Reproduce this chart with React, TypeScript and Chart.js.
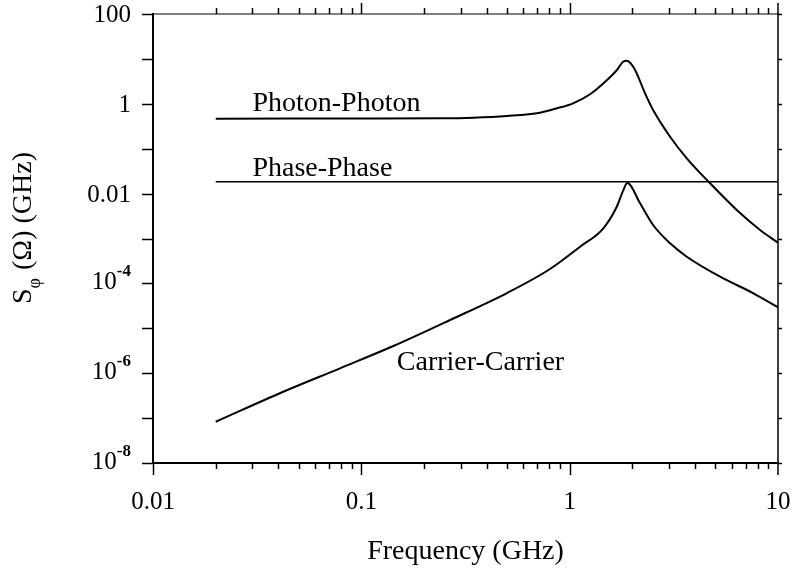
import React, { useEffect, useRef } from 'react';
import { Chart, registerables } from 'chart.js';

Chart.register(...registerables);

// ---- data ----
const photonFreq = [0.02, 0.1, 0.2386, 0.3438, 0.5006, 0.721, 0.87, 1.038, 1.253, 1.512, 1.686, 1.805, 1.88, 1.95, 2.061, 2.301, 2.515, 3.034, 3.649, 4.721, 6.34, 8.2, 10];
const photonValues = [0.466, 0.47, 0.475, 0.49, 0.535, 0.634, 0.794, 1.026, 1.63, 3.39, 5.66, 8.66, 9.12, 8.2, 5.66, 1.71, 0.728, 0.185, 0.0611, 0.01695, 0.00431, 0.001545, 0.000806];

const phaseFreq = [0.02, 10];
const phaseValues = [0.0184, 0.0184];

const carrierFreq = [0.02, 0.0422, 0.079, 0.1424, 0.2666, 0.5, 0.805, 1.122, 1.451, 1.683, 1.81, 1.89, 2.178, 2.515, 3.034, 3.649, 5.272, 7.62, 10];
const carrierValues = [8.3e-8, 3.87e-7, 1.285e-6, 4.03e-6, 1.53e-5, 6.1e-5, 2.09e-4, 6.56e-4, 1.69e-3, 5.1e-3, 0.012, 0.0172, 6.08e-3, 2.0e-3, 7.82e-4, 3.93e-4, 1.41e-4, 6.03e-5, 2.94e-5];

const xTickValues = [0.01, 0.1, 1, 10];
const xTickLabels = ['0.01', '0.1', '1', '10'];
const yTickValues = [100, 1, 0.01, 1e-4, 1e-6, 1e-8];
const yTickBases = ['100', '1', '0.01', '10', '10', '10'];
const yTickExponents = ['', '', '', '-4', '-6', '-8'];
const yDecades = [100, 10, 1, 0.1, 0.01, 1e-3, 1e-4, 1e-5, 1e-6, 1e-7, 1e-8];

const curveLabels = ['Photon-Photon', 'Phase-Phase', 'Carrier-Carrier'];
const curveLabelAnchorX = [0.03, 0.03, 0.148];
const curveLabelAnchorY = [0.69, 0.0247, 1.18e-6];

const xTitle = 'Frequency (GHz)';
const yTitleMain = 'S';
const yTitleSub = 'φ';
const yTitleRest = '(Ω) (GHz)';

const FONT = "'Liberation Serif', 'DejaVu Serif', serif";

const toPoints = (xs: number[], ys: number[]) => xs.map((v, i) => ({ x: v, y: ys[i] }));

const decorPlugin = {
  id: 'decor',
  afterDraw(chart: any) {
    const { ctx, chartArea: a, scales } = chart;
    const xs = scales.x;
    const ys = scales.y;
    ctx.save();
    ctx.strokeStyle = '#000';
    ctx.fillStyle = '#000';
    const seg = (x1: number, y1: number, x2: number, y2: number, w: number) => {
      ctx.lineWidth = w;
      ctx.beginPath();
      ctx.moveTo(x1, y1);
      ctx.lineTo(x2, y2);
      ctx.stroke();
    };
    // frame
    seg(a.left, a.top - 1, a.left, a.bottom + 1, 2);
    seg(a.left, a.bottom, a.right + 1, a.bottom, 2);
    seg(a.left, a.top, a.right, a.top, 1.2);
    seg(a.right, a.top - 1, a.right, a.bottom + 1, 1.5);

    // x ticks (top and bottom)
    for (let d = -2; d <= 0; d++) {
      for (let k = 1; k <= 9; k++) {
        const v = k * Math.pow(10, d);
        const px = Math.round(xs.getPixelForValue(v)) + 0.5;
        const major = k === 1;
        if (v > 0.0101) seg(px, a.top, px, a.top - (major ? 11 : 6), 1.5);
        seg(px, a.bottom, px, a.bottom + (major ? 12 : 6), 1.5);
      }
    }
    {
      const px = xs.getPixelForValue(10);
      seg(px, a.top, px, a.top - 11, 1.5);
      seg(px, a.bottom, px, a.bottom + 12, 1.5);
    }
    // y ticks
    yDecades.forEach((v) => {
      const py = Math.round(ys.getPixelForValue(v)) + 0.5;
      seg(a.left - 11, py, a.left, py, 1.5);
      seg(a.right, py, a.right + 4, py, 1.5);
    });

    // x tick labels
    ctx.font = `25px ${FONT}`;
    ctx.textAlign = 'center';
    ctx.textBaseline = 'alphabetic';
    xTickValues.forEach((v, i) => {
      ctx.fillText(xTickLabels[i], xs.getPixelForValue(v), 509);
    });

    // y tick labels
    const rightEdge = a.left - 22;
    yTickValues.forEach((v, i) => {
      const py = ys.getPixelForValue(v);
      const exp = yTickExponents[i];
      ctx.textAlign = 'left';
      if (!exp) {
        ctx.font = `25px ${FONT}`;
        const w = ctx.measureText(yTickBases[i]).width;
        ctx.fillText(yTickBases[i], rightEdge - w, py + 8);
      } else {
        ctx.font = `bold 17px ${FONT}`;
        const we = ctx.measureText(exp).width;
        ctx.fillText(exp, rightEdge - we, py - 7);
        ctx.font = `25px ${FONT}`;
        const wb = ctx.measureText(yTickBases[i]).width;
        ctx.fillText(yTickBases[i], rightEdge - we - wb, py + 6);
      }
    });

    // curve labels
    ctx.font = `28px ${FONT}`;
    ctx.textAlign = 'left';
    curveLabels.forEach((t, i) => {
      ctx.fillText(t, xs.getPixelForValue(curveLabelAnchorX[i]), ys.getPixelForValue(curveLabelAnchorY[i]));
    });

    // x title
    ctx.font = `28px ${FONT}`;
    ctx.textAlign = 'center';
    ctx.fillText(xTitle, (a.left + a.right) / 2, 559);

    // y title (rotated, with subscript)
    ctx.save();
    ctx.translate(31, 0);
    ctx.rotate(-Math.PI / 2);
    ctx.textAlign = 'left';
    ctx.font = `28px ${FONT}`;
    const wS = ctx.measureText(yTitleMain).width;
    const wR = ctx.measureText(yTitleRest).width;
    ctx.font = `18px ${FONT}`;
    const wP = ctx.measureText(yTitleSub).width;
    const gap = 8;
    const total = wS + wP + gap + wR;
    const start = -(228 + total / 2);
    ctx.font = `28px ${FONT}`;
    ctx.fillText(yTitleMain, start, 0);
    ctx.font = `18px ${FONT}`;
    ctx.fillText(yTitleSub, start + wS, 9);
    ctx.font = `28px ${FONT}`;
    ctx.fillText(yTitleRest, start + wS + wP + gap, 0);
    ctx.restore();

    ctx.restore();
  },
};

export default function App() {
  const ref = useRef<HTMLCanvasElement | null>(null);
  useEffect(() => {
    if (!ref.current) return;
    const chart = new Chart(ref.current, {
      type: 'line',
      data: {
        datasets: [
          {
            label: curveLabels[0],
            data: toPoints(photonFreq, photonValues),
            borderColor: '#000',
            borderWidth: 2,
            pointRadius: 0,
            cubicInterpolationMode: 'monotone',
            fill: false,
          },
          {
            label: curveLabels[1],
            data: toPoints(phaseFreq, phaseValues),
            borderColor: '#000',
            borderWidth: 1.6,
            pointRadius: 0,
            fill: false,
          },
          {
            label: curveLabels[2],
            data: toPoints(carrierFreq, carrierValues),
            borderColor: '#000',
            borderWidth: 2,
            pointRadius: 0,
            cubicInterpolationMode: 'monotone',
            fill: false,
          },
        ],
      },
      options: {
        responsive: false,
        animation: false,
        layout: { padding: { left: 153, top: 14, right: 14, bottom: 116 } },
        plugins: { legend: { display: false }, tooltip: { enabled: false } },
        scales: {
          x: {
            type: 'logarithmic',
            min: 0.01,
            max: 10,
            ticks: { display: false },
            grid: { display: false, drawTicks: false, tickLength: 0 },
            border: { display: false },
            title: { display: false },
          },
          y: {
            type: 'logarithmic',
            min: 1e-8,
            max: 100,
            ticks: { display: false },
            grid: { display: false, drawTicks: false, tickLength: 0 },
            border: { display: false },
            title: { display: false },
          },
        },
      },
      plugins: [decorPlugin],
    });
    return () => chart.destroy();
  }, []);
  return (
    <div style={{ position: 'fixed', left: 0, top: 0, width: 792, height: 579, background: '#fff' }}>
      <canvas ref={ref} width={792} height={579} style={{ display: 'block' }} />
    </div>
  );
}
